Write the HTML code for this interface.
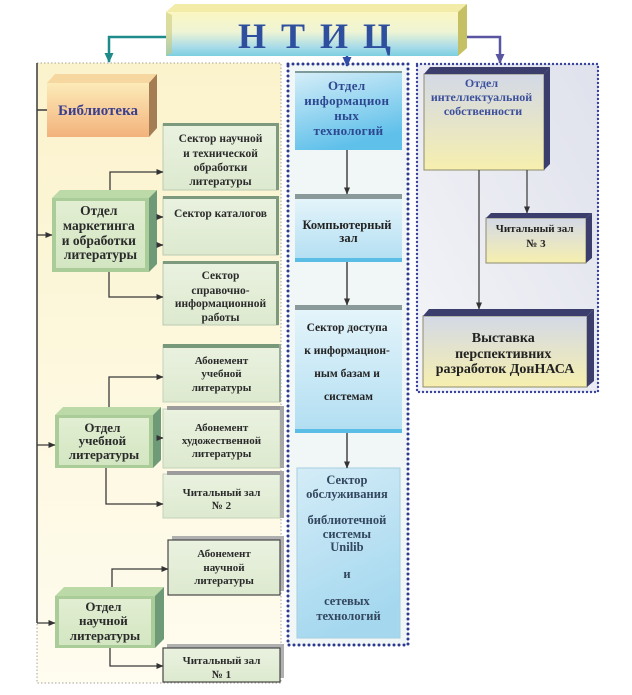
<!DOCTYPE html>
<html>
<head>
<meta charset="utf-8">
<style>
  html,body{margin:0;padding:0;background:#fff;}
  body{width:632px;height:695px;overflow:hidden;}
  svg{display:block;}
  text{font-family:"Liberation Serif","DejaVu Serif",serif;font-weight:bold;}
</style>
</head>
<body>
<svg width="632" height="695" viewBox="0 0 632 695" xmlns="http://www.w3.org/2000/svg">
  <defs>
    <linearGradient id="gNtic" x1="0" y1="0" x2="0" y2="1">
      <stop offset="0" stop-color="#fbf7c2"/>
      <stop offset="0.45" stop-color="#eef4d4"/>
      <stop offset="0.8" stop-color="#a8dbe8"/>
      <stop offset="1" stop-color="#7ccfe0"/>
    </linearGradient>
    <linearGradient id="gLib" x1="0" y1="0" x2="0" y2="1">
      <stop offset="0" stop-color="#fcebb8"/>
      <stop offset="1" stop-color="#f3b27c"/>
    </linearGradient>
    <linearGradient id="gGreen" x1="0" y1="0" x2="0" y2="1">
      <stop offset="0" stop-color="#e2eed2"/>
      <stop offset="1" stop-color="#d3e6c2"/>
    </linearGradient>
    <linearGradient id="gSect" x1="0" y1="0" x2="0" y2="1">
      <stop offset="0" stop-color="#eaf2e0"/>
      <stop offset="1" stop-color="#dde9cf"/>
    </linearGradient>
    <linearGradient id="gLeftBg" x1="0" y1="0" x2="0" y2="1">
      <stop offset="0" stop-color="#fbf3cc"/>
      <stop offset="1" stop-color="#fffcf0"/>
    </linearGradient>
    <linearGradient id="gIT" x1="0" y1="0" x2="0.35" y2="1">
      <stop offset="0" stop-color="#d6eef8"/>
      <stop offset="1" stop-color="#5fc0ea"/>
    </linearGradient>
    <linearGradient id="gComp" x1="0" y1="0" x2="0" y2="1">
      <stop offset="0" stop-color="#e4f4fa"/>
      <stop offset="1" stop-color="#b1def2"/>
    </linearGradient>
    <linearGradient id="gServ" x1="0" y1="0" x2="0.3" y2="1">
      <stop offset="0" stop-color="#d4ecf7"/>
      <stop offset="1" stop-color="#a5d8ef"/>
    </linearGradient>
    <linearGradient id="gRightBg" x1="1" y1="0" x2="0" y2="1">
      <stop offset="0" stop-color="#dfe1ec"/>
      <stop offset="1" stop-color="#f4f5f8"/>
    </linearGradient>
    <linearGradient id="gIP" x1="0" y1="0" x2="0" y2="1">
      <stop offset="0" stop-color="#d3d9e7"/>
      <stop offset="1" stop-color="#f6efae"/>
    </linearGradient>
    <marker id="ah" markerWidth="7" markerHeight="6" refX="6.5" refY="3" orient="auto" markerUnits="userSpaceOnUse">
      <path d="M0,0 L7,3 L0,6 z" fill="#333"/>
    </marker>
    <marker id="ahTeal" markerWidth="10" markerHeight="9" refX="9" refY="4.5" orient="auto" markerUnits="userSpaceOnUse">
      <path d="M0,0 L10,4.5 L0,9 z" fill="#1f8a8a"/>
    </marker>
    <marker id="ahPurp" markerWidth="10" markerHeight="9" refX="9" refY="4.5" orient="auto" markerUnits="userSpaceOnUse">
      <path d="M0,0 L10,4.5 L0,9 z" fill="#5a55a0"/>
    </marker>
    <marker id="ahBlue" markerWidth="10" markerHeight="9" refX="9" refY="4.5" orient="auto" markerUnits="userSpaceOnUse">
      <path d="M0,0 L10,4.5 L0,9 z" fill="#2f4ea8"/>
    </marker>
  </defs>

  <!-- ===== Containers ===== -->
  <rect x="37" y="63" width="244" height="620" fill="url(#gLeftBg)" stroke="#a9a59a" stroke-width="1" stroke-dasharray="1.5 2"/>
  <rect x="288" y="64" width="120" height="581" fill="#f1f6f6"/>
  <rect x="288" y="64" width="120" height="581" fill="none" stroke="#2b3990" stroke-width="3" stroke-dasharray="0 5" stroke-linecap="round"/>
  <rect x="417" y="64" width="181" height="328" fill="url(#gRightBg)"/>
  <rect x="417" y="64" width="181" height="328" fill="none" stroke="#34409a" stroke-width="2.4" stroke-dasharray="0 4" stroke-linecap="round"/>

  <!-- ===== NTIC ===== -->
  <polygon points="166,12 175,4 467,4 458,12" fill="#f3eca8"/>
  <polygon points="458,12 467,4 467,48 458,56" fill="#c6c064"/>
  <rect x="166" y="12" width="292" height="44" fill="url(#gNtic)"/>
  <polygon points="166,12 172,15 172,53 166,56" fill="#c9c979" opacity="0.55"/>
  <text x="238" y="48" font-size="36" fill="#2d4f9e" letter-spacing="3">Н Т И Ц</text>

  <!-- top connectors -->
  <polyline points="166,37 109,37 109,62" fill="none" stroke="#1f8a8a" stroke-width="2.5" marker-end="url(#ahTeal)"/>
  <polyline points="467,37 500,37 500,63" fill="none" stroke="#5a55a0" stroke-width="2.5" marker-end="url(#ahPurp)"/>
  <line x1="347" y1="56" x2="347" y2="66" stroke="#2f4ea8" stroke-width="2.5" marker-end="url(#ahBlue)"/>

  <!-- ===== Left column ===== -->
  <line x1="37" y1="63" x2="37" y2="623" stroke="#3a3a3a" stroke-width="1.5"/>
  <line x1="37" y1="110" x2="47" y2="110" stroke="#3a3a3a" stroke-width="1.5"/>

  <!-- Библиотека -->
  <polygon points="47,83 55,74 157,74 149,83" fill="#f7d7a0"/>
  <polygon points="149,83 157,74 157,128 149,137" fill="#a47d55"/>
  <rect x="47" y="83" width="102" height="54" fill="url(#gLib)"/>
  <text x="98" y="115" font-size="15" fill="#3b3f8e" text-anchor="middle">Библиотека</text>

  <!-- Отдел маркетинга -->
  <polygon points="52,198 60,190 157,190 149,198" fill="#bcdaa8"/>
  <polygon points="149,198 157,190 157,264 149,272" fill="#6f9a78"/>
  <rect x="52" y="198" width="97" height="74" fill="#a9cc98"/>
  <rect x="56" y="201" width="89" height="67" fill="url(#gGreen)"/>
  <text font-size="13.5" fill="#2b2b2b" text-anchor="middle">
    <tspan x="100.5" y="215">Отдел</tspan>
    <tspan x="100.5" y="230">маркетинга</tspan>
    <tspan x="100.5" y="245">и обработки</tspan>
    <tspan x="100.5" y="259">литературы</tspan>
  </text>

  <!-- Отдел учебной -->
  <polygon points="55,415 63,407 161,407 153,415" fill="#bcdaa8"/>
  <polygon points="153,415 161,407 161,460 153,468" fill="#6f9a78"/>
  <rect x="55" y="415" width="98" height="53" fill="#a9cc98"/>
  <rect x="59" y="418" width="90" height="47" fill="url(#gGreen)"/>
  <text font-size="13" fill="#2b2b2b" text-anchor="middle">
    <tspan x="104" y="432">Отдел</tspan>
    <tspan x="104" y="445">учебной</tspan>
    <tspan x="104" y="459">литературы</tspan>
  </text>

  <!-- Отдел научной -->
  <polygon points="55,596 64,587 164,587 155,596" fill="#bcdaa8"/>
  <polygon points="155,596 164,587 164,639 155,648" fill="#6f9a78"/>
  <rect x="55" y="596" width="100" height="52" fill="#a9cc98"/>
  <rect x="59" y="599" width="92" height="46" fill="url(#gGreen)"/>
  <text font-size="13" fill="#2b2b2b" text-anchor="middle">
    <tspan x="105" y="611">Отдел</tspan>
    <tspan x="105" y="625">научной</tspan>
    <tspan x="105" y="640">литературы</tspan>
  </text>

  <!-- Sector boxes -->
  <!-- S1 -->
  <rect x="163" y="124" width="115" height="66" fill="url(#gSect)" stroke="#b9cbb0" stroke-width="1"/>
  <rect x="163" y="123" width="116" height="3" fill="#7e9a7e"/>
  <rect x="276" y="123" width="3" height="67" fill="#7e9a7e"/>
  <!-- S2 -->
  <rect x="163" y="197" width="115" height="58" fill="url(#gSect)" stroke="#b9cbb0" stroke-width="1"/>
  <rect x="163" y="196" width="116" height="3" fill="#7e9a7e"/>
  <rect x="276" y="196" width="3" height="59" fill="#7e9a7e"/>
  <!-- S3 -->
  <rect x="163" y="262" width="115" height="63" fill="url(#gSect)" stroke="#b9cbb0" stroke-width="1"/>
  <rect x="163" y="261" width="116" height="3" fill="#7e9a7e"/>
  <rect x="276" y="261" width="3" height="64" fill="#7e9a7e"/>
  <!-- A1 -->
  <rect x="163" y="345" width="117" height="57" fill="url(#gSect)" stroke="#c3d3ba" stroke-width="1"/>
  <rect x="163" y="344" width="118" height="4" fill="#78987a"/>
  <rect x="279" y="344" width="2" height="58" fill="#9aaa98"/>
  <!-- A2 -->
  <rect x="163" y="409" width="117" height="59" fill="url(#gSect)" stroke="#c3d3ba" stroke-width="1"/>
  <rect x="167" y="406" width="117" height="4" fill="#9c9c9c"/>
  <rect x="280" y="406" width="4" height="62" fill="#a6a6a6"/>
  <!-- R2 -->
  <rect x="163" y="474" width="117" height="44" fill="url(#gSect)" stroke="#c3d3ba" stroke-width="1"/>
  <rect x="167" y="471" width="117" height="4" fill="#9c9c9c"/>
  <rect x="280" y="471" width="4" height="47" fill="#a6a6a6"/>
  <!-- A3 -->
  <rect x="172" y="536" width="112" height="55" fill="#b0b0b0"/>
  <rect x="168" y="540" width="112" height="55" fill="url(#gSect)" stroke="#474747" stroke-width="1.2"/>
  <!-- R1 -->
  <rect x="167" y="644" width="117" height="34" fill="#b0b0b0"/>
  <rect x="163" y="648" width="117" height="34" fill="url(#gSect)" stroke="#474747" stroke-width="1.2"/>

  <g font-size="11.5" fill="#2b2b2b" text-anchor="middle">
    <text><tspan x="220.5" y="142">Сектор научной</tspan><tspan x="220.5" y="157">и технической</tspan><tspan x="220.5" y="171">обработки</tspan><tspan x="220.5" y="185">литературы</tspan></text>
    <text><tspan x="220.5" y="217">Сектор каталогов</tspan></text>
    <text><tspan x="220.5" y="279">Сектор</tspan><tspan x="220.5" y="294">справочно-</tspan><tspan x="220.5" y="307">информационной</tspan><tspan x="220.5" y="321">работы</tspan></text>
    <text font-size="11"><tspan x="221.5" y="364">Абонемент</tspan><tspan x="221.5" y="377">учебной</tspan><tspan x="221.5" y="391">литературы</tspan></text>
    <text font-size="11"><tspan x="221.5" y="431">Абонемент</tspan><tspan x="221.5" y="444">художественной</tspan><tspan x="221.5" y="457">литературы</tspan></text>
    <text font-size="11"><tspan x="221.5" y="496">Читальный зал</tspan><tspan x="221.5" y="509">№ 2</tspan></text>
    <text font-size="11"><tspan x="224" y="557">Абонемент</tspan><tspan x="224" y="571">научной</tspan><tspan x="224" y="584">литературы</tspan></text>
    <text font-size="11"><tspan x="221.5" y="664">Читальный зал</tspan><tspan x="221.5" y="678">№ 1</tspan></text>
  </g>

  <!-- Left connectors -->
  <g fill="none" stroke="#3a3a3a" stroke-width="1.3">
    <path d="M37,235 H52" marker-end="url(#ah)"/>
    <path d="M37,445 H55" marker-end="url(#ah)"/>
    <path d="M37,623 H55" marker-end="url(#ah)"/>
    <path d="M110,190 V172 H163" marker-end="url(#ah)"/>
    <path d="M157,217 H163" marker-end="url(#ah)"/>
    <path d="M157,245 H163" marker-end="url(#ah)"/>
    <path d="M109,272 V297 H163" marker-end="url(#ah)"/>
    <path d="M109,407 V377 H163" marker-end="url(#ah)"/>
    <path d="M161,438 H163" marker-end="url(#ah)"/>
    <path d="M106,468 V504 H163" marker-end="url(#ah)"/>
    <path d="M112,587 V569 H168" marker-end="url(#ah)"/>
    <path d="M110,648 V666 H163" marker-end="url(#ah)"/>
  </g>

  <!-- ===== Middle column ===== -->
  <rect x="295" y="72" width="107" height="78" fill="url(#gIT)"/>
  <rect x="295" y="71" width="107" height="2" fill="#7f9a9a"/>
  <text font-size="13" fill="#2d4890" text-anchor="middle" letter-spacing="0.3">
    <tspan x="348.5" y="90">Отдел</tspan>
    <tspan x="348.5" y="105">информацион</tspan>
    <tspan x="348.5" y="120">ных</tspan>
    <tspan x="348.5" y="135">технологий</tspan>
  </text>

  <rect x="295" y="194" width="107" height="5" fill="#8a9a9a"/>
  <rect x="295" y="199" width="107" height="63" fill="url(#gComp)"/>
  <rect x="295" y="258" width="107" height="4" fill="#5abde6"/>
  <text font-size="12.5" fill="#222" text-anchor="middle">
    <tspan x="348.5" y="229">Компьютерный</tspan>
    <tspan x="348.5" y="242">зал</tspan>
  </text>

  <rect x="295" y="305" width="107" height="5" fill="#8a9a9a"/>
  <rect x="295" y="310" width="107" height="123" fill="url(#gComp)"/>
  <rect x="295" y="429" width="107" height="4" fill="#5abde6"/>
  <text font-size="11.5" fill="#222" text-anchor="middle">
    <tspan x="348.5" y="331">Сектор доступа</tspan>
    <tspan x="348.5" y="354">к информацион-</tspan>
    <tspan x="348.5" y="377">ным базам и</tspan>
    <tspan x="348.5" y="400">системам</tspan>
  </text>

  <rect x="297" y="468" width="103" height="170" fill="url(#gServ)" stroke="#a8cfe0" stroke-width="1"/>
  <text font-size="12.5" fill="#33475f" text-anchor="middle">
    <tspan x="348.5" y="484">Сектор</tspan>
    <tspan x="348.5" y="498">обслуживания</tspan>
    <tspan x="348.5" y="524">библиотечной</tspan>
    <tspan x="348.5" y="538">системы</tspan>
    <tspan x="348.5" y="551">Unilib</tspan>
    <tspan x="348.5" y="578">и</tspan>
    <tspan x="348.5" y="605">сетевых</tspan>
    <tspan x="348.5" y="620">технологий</tspan>
  </text>

  <g fill="none" stroke="#3a3a3a" stroke-width="1.4">
    <path d="M347,150 V194" marker-end="url(#ah)"/>
    <path d="M347,262 V305" marker-end="url(#ah)"/>
    <path d="M347,433 V468" marker-end="url(#ah)"/>
  </g>

  <!-- ===== Right column ===== -->
  <!-- Отдел интеллектуальной собственности -->
  <rect x="424" y="74" width="120" height="96" fill="url(#gIP)" stroke="#8f8c6c" stroke-width="1"/>
  <polygon points="424,74 430,67 550,67 544,74" fill="#3b3e6c"/>
  <polygon points="544,74 550,67 550,164 544,170" fill="#3b3e6c"/>
  <text font-size="12" fill="#3c4f9c" text-anchor="middle">
    <tspan x="483" y="87">Отдел</tspan>
    <tspan x="483" y="101">интеллектуальной</tspan>
    <tspan x="483" y="115">собственности</tspan>
  </text>

  <!-- Читальный зал №3 -->
  <rect x="486" y="218" width="100" height="45" fill="url(#gIP)" stroke="#8f8c6c" stroke-width="1"/>
  <polygon points="486,218 491,213 592,213 586,218" fill="#3b3e6c"/>
  <polygon points="586,218 592,213 592,258 586,263" fill="#3b3e6c"/>
  <text font-size="11" fill="#222" text-anchor="middle">
    <tspan x="536" y="232">Читальный зал</tspan>
    <tspan x="536" y="247">№ 3</tspan>
  </text>

  <!-- Выставка -->
  <rect x="423" y="316" width="164" height="71" fill="url(#gIP)" stroke="#8f8c6c" stroke-width="1"/>
  <polygon points="423,316 429,309 594,309 587,316" fill="#3b3e6c"/>
  <polygon points="587,316 594,309 594,381 587,387" fill="#3b3e6c"/>
  <text font-size="14" fill="#222" text-anchor="middle">
    <tspan x="505" y="342">Выставка</tspan>
    <tspan x="505" y="358">перспективних</tspan>
    <tspan x="505" y="373">разработок ДонНАСА</tspan>
  </text>

  <g fill="none" stroke="#444" stroke-width="1.3">
    <path d="M479,170 V309" marker-end="url(#ah)"/>
    <path d="M527,170 V213" marker-end="url(#ah)"/>
  </g>
</svg>
</body>
</html>
